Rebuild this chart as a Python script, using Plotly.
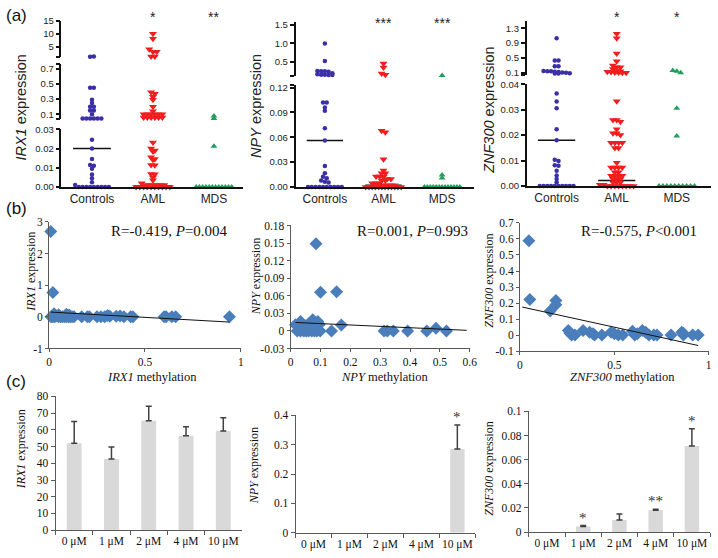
import plotly.graph_objects as go

W, H = 718, 558

# ---------------- data: panel (a) dot plots ----------------
GROUPS = ["Controls", "AML", "MDS"]

IRX1_CONTROLS = [1.2, 1.25, 0.45, 0.45, 0.29, 0.25, 0.2, 0.2, 0.15, 0.15, 0.1,
                 0.045, 0.045, 0.045, 0.045, 0.045, 0.045,
                 0.0245, 0.02, 0.0145, 0.0115, 0.011, 0.0095, 0.0065, 0.0045, 0.0025, 0.001,
                 0, 0, 0, 0, 0, 0, 0, 0, 0]
IRX1_AML = [10, 8.1, 4, 3.1, 3.1, 1.25, 1.25,
            0.39, 0.37, 0.33, 0.29, 0.2, 0.14, 0.1, 0.1, 0.1, 0.1, 0.1, 0.1,
            0.06, 0.06, 0.06, 0.06, 0.06, 0.06,
            0.0232, 0.02, 0.019, 0.0185, 0.0155, 0.0145, 0.0142, 0.0115, 0.0113,
            0.0068, 0.0066, 0.005, 0.0035, 0.002,
            0.001, 0.001, 0.001, 0.001, 0.001, 0.001,
            0, 0, 0, 0, 0, 0, 0, 0, 0, 0]
IRX1_MDS = [0.078, 0.045, 0.0212, 0, 0, 0, 0, 0, 0, 0, 0, 0, 0, 0, 0]
IRX1_MEDIAN = [0.02, 0.0006, 0]
IRX1_SIG = ["", "*", "**"]

NPY_CONTROLS = [1.0, 0.53, 0.26, 0.25, 0.25, 0.24, 0.2, 0.17, 0.16, 0.16, 0.15, 0.15,
                0.102, 0.102, 0.096, 0.092, 0.071, 0.056, 0.0255, 0.0165, 0.0125,
                0.0105, 0.008, 0.0065, 0.0055,
                0, 0, 0, 0, 0, 0, 0, 0, 0, 0]
NPY_AML = [0.46, 0.35, 0.19, 0.16,
           0.068, 0.066, 0.0336, 0.0198, 0.0166, 0.0166, 0.0127, 0.0127, 0.0125,
           0.0098, 0.0098, 0.008, 0.008, 0.0047, 0.0047, 0.0047,
           0.002, 0.002, 0.002, 0.002,
           0, 0, 0, 0, 0, 0, 0, 0, 0, 0, 0, 0]
NPY_MDS = [0.14, 0.0146, 0.011, 0, 0, 0, 0, 0, 0, 0, 0, 0, 0, 0, 0, 0]
NPY_MEDIAN = [0.056, 0.0022, 0]
NPY_SIG = ["", "***", "***"]

ZNF300_CONTROLS = [1.03, 0.43, 0.43, 0.28, 0.28, 0.15, 0.14, 0.14, 0.13, 0.12, 0.11,
                   0.1, 0.09, 0.08, 0.08,
                   0.0364, 0.0332, 0.0306, 0.0223, 0.018, 0.0103, 0.0098, 0.0082,
                   0.008, 0.006, 0.0041, 0.0028, 0.0015,
                   0, 0, 0, 0, 0, 0, 0, 0, 0, 0]
ZNF300_AML = [1.15, 1.03, 0.62, 0.41, 0.3, 0.25, 0.25, 0.2, 0.15, 0.14, 0.13, 0.12,
              0.11, 0.11, 0.1, 0.1,
              0.0333, 0.026, 0.026, 0.0253, 0.0223, 0.0208, 0.0208, 0.0201,
              0.017, 0.017, 0.017, 0.017, 0.015, 0.015, 0.0092,
              0.0073, 0.0073, 0.0073, 0.0073, 0.0054, 0.0054,
              0.004, 0.004, 0.004, 0.004, 0.0028, 0.0028, 0.0028,
              0.0015, 0.0015, 0.0015, 0.0005, 0.0005,
              0, 0, 0, 0, 0, 0, 0, 0]
ZNF300_MDS = [0.16, 0.145, 0.1, 0.0306, 0.0197, 0, 0, 0, 0, 0, 0, 0, 0, 0, 0]
ZNF300_MEDIAN = [0.018, 0.0022, 0]
ZNF300_SIG = ["", "*", "*"]

# ---------------- data: panel (b) correlations ----------------
IRX1_METH = [0.009, 0.02, 0.026, 0.01, 0.015, 0.02, 0.03, 0.04, 0.05, 0.06, 0.07,
             0.08, 0.09, 0.1, 0.11, 0.12, 0.13, 0.05, 0.09, 0.105,
             0.17, 0.2, 0.21, 0.25, 0.27, 0.29, 0.305, 0.317,
             0.35, 0.37, 0.39, 0.425, 0.437, 0.6, 0.61, 0.64, 0.66, 0.94]
IRX1_EXPR = [2.7, 0.77, 0.1, 0.0, 0.02, 0.0, 0.0, 0.03, 0.0, 0.0, 0.0,
             0.0, 0.0, 0.0, 0.0, 0.0, 0.0, 0.07, 0.08, 0.06,
             0.0, 0.0, 0.0, 0.0, 0.0, 0.0, 0.04, 0.02,
             0.02, 0.03, 0.0, 0.0, 0.0, 0.0, 0.0, 0.0, 0.0, 0.0]
IRX1_FIT_X = [0.01, 0.94]
IRX1_FIT_Y = [0.15, -0.165]

NPY_METH = [0.085, 0.1, 0.154, 0.016, 0.033, 0.049, 0.06, 0.074, 0.08, 0.091, 0.096,
            0.17, 0.022, 0.033, 0.044, 0.052, 0.06, 0.071, 0.08, 0.088, 0.099,
            0.137, 0.313, 0.324, 0.344, 0.392, 0.456, 0.487, 0.522, 0.049, 0.07]
NPY_EXPR = [0.149, 0.066, 0.067, 0.0106, 0.016, 0.009, 0.012, 0.019, 0.014, 0.016, 0.011,
            0.01, 0, 0, 0, 0, 0, 0, 0, 0, 0,
            0, 0, 0, 0, 0, 0, 0.0044, 0, 0.004, 0.005]
NPY_FIT_X = [0.016, 0.59]
NPY_FIT_Y = [0.0144, 0.001]

ZNF300_METH = [0.047, 0.052, 0.16, 0.19, 0.19, 0.256, 0.265, 0.274, 0.291, 0.334,
               0.369, 0.387, 0.395, 0.434, 0.483, 0.5, 0.521, 0.544, 0.596, 0.608,
               0.622, 0.648, 0.666, 0.683, 0.709, 0.726, 0.8, 0.857, 0.866, 0.866,
               0.915, 0.944]
ZNF300_EXPR = [0.589, 0.222, 0.151, 0.216, 0.19, 0.029, 0.012, 0.0, 0.0, 0.029,
               0.018, 0.008, 0.0, 0.0, 0.018, 0.008, 0.0, 0.0, 0.024, 0.0,
               0.008, 0.029, 0.018, 0.0, 0.0, 0.0, 0.0, 0.018, 0.012, 0.0,
               0.0, 0.0]
ZNF300_FIT_X = [0.012, 0.944]
ZNF300_FIT_Y = [0.175, -0.065]

# ---------------- data: panel (c) bars ----------------
DOSES = ["0 \u03bcM", "1 \u03bcM", "2 \u03bcM", "4 \u03bcM", "10 \u03bcM"]
IRX1_BAR = [52, 42.5, 65.5, 56.5, 59.3]
IRX1_SD = [13, 7.2, 8.6, 5.4, 8]
IRX1_BAR_SIG = ["", "", "", "", ""]
NPY_BAR = [0, 0, 0, 0, 0.285]
NPY_SD = [0, 0, 0, 0, 0.082]
NPY_BAR_SIG = ["", "", "", "", "*"]
ZNF300_BAR = [0, 0.0046, 0.0100, 0.0181, 0.0713]
ZNF300_SD = [0, 0.0009, 0.0051, 0.0008, 0.0144]
ZNF300_BAR_SIG = ["", "*", "", "**", "*"]

# ---------------- helpers ----------------
SANS = "Liberation Sans, Arial, sans-serif"
SERIF = "Liberation Serif, Times New Roman, serif"


def fx(p):
    return p / W


def fy(p):
    return 1 - p / H


fig = go.Figure()
axes = {}
count = [0]


def new_pair(xdom, ydom, xr, yr, xopts, yopts):
    count[0] += 1
    n = count[0]
    sfx = "" if n == 1 else str(n)
    axes["xaxis" + sfx] = dict(domain=[fx(xdom[0]), fx(xdom[1])], range=list(xr) if xr else None,
                               anchor="y" + sfx, showgrid=False, zeroline=False, **xopts)
    axes["yaxis" + sfx] = dict(domain=[fy(ydom[1]), fy(ydom[0])], range=list(yr),
                               anchor="x" + sfx, showgrid=False, zeroline=False, **yopts)
    return "x" + sfx, "y" + sfx


def seg_index(v, segs):
    for k, s in enumerate(segs):
        if v <= s["hi"] + 1e-12:
            return k
    return len(segs) - 1


def swarm(vals, seg, px_per_unit, spacing, tol=2.5, maxw=36.0):
    top, bot, lo, hi = seg["top"], seg["bot"], seg["lo"], seg["hi"]
    ys = [top + (hi - v) / (hi - lo) * (bot - top) for v in vals]
    order = sorted(range(len(vals)), key=lambda i: ys[i])
    rows, cur = [], []
    for i in order:
        if cur and ys[i] - ys[cur[0]] > tol:
            rows.append(cur)
            cur = []
        cur.append(i)
    if cur:
        rows.append(cur)
    offs = [0.0] * len(vals)
    for row in rows:
        n = len(row)
        sp = spacing if (n - 1) * spacing <= maxw else maxw / (n - 1)
        row_sorted = sorted(row)
        for k, i in enumerate(row_sorted):
            offs[i] = (k - (n - 1) / 2) * sp / px_per_unit
    return offs


# ---------------- panel (a) ----------------
A_PANELS = [
    dict(gene="IRX1", data=[IRX1_CONTROLS, IRX1_AML, IRX1_MDS], med=IRX1_MEDIAN, sig=IRX1_SIG,
         xdom=(59.3, 243), xr=(-0.5, 2.47),
         segs=[dict(top=126, bot=185, lo=0, hi=0.03, tv=[0, 0.01, 0.02, 0.03],
                    tt=["0.00", "0.01", "0.02", "0.03"]),
               dict(top=59.3, bot=115.4, lo=0.04, hi=0.76, tv=[0.04, 0.1, 0.3, 0.5, 0.7, 0.76],
                    tt=["", "0.1", "0.3", "0.5", "0.7", ""]),
               dict(top=15, bot=52.3, lo=1, hi=15, tv=[1, 5, 10, 15], tt=["", "5", "10", "15"])],
         tx=18, ty=104, sy=11),
    dict(gene="NPY", data=[NPY_CONTROLS, NPY_AML, NPY_MDS], med=NPY_MEDIAN, sig=NPY_SIG,
         xdom=(296.7, 478), xr=(-0.5, 2.55),
         segs=[dict(top=81, bot=185, lo=0, hi=0.1228, tv=[0, 0.03, 0.06, 0.09, 0.12, 0.1228],
                    tt=["0.00", "0.03", "0.06", "0.09", "0.12", ""]),
               dict(top=16.7, bot=71.7, lo=0.12, hi=1.567, tv=[0.12, 0.5, 1.0, 1.5],
                    tt=["", "0.5", "1.0", "1.5"])],
         tx=256.7, ty=102, sy=17),
    dict(gene="ZNF300", data=[ZNF300_CONTROLS, ZNF300_AML, ZNF300_MDS], med=ZNF300_MEDIAN, sig=ZNF300_SIG,
         xdom=(531, 718), xr=(-0.5, 2.57),
         segs=[dict(top=80, bot=184, lo=0, hi=0.04, tv=[0, 0.01, 0.02, 0.03, 0.04],
                    tt=["0.00", "0.01", "0.02", "0.03", "0.04"]),
               dict(top=15, bot=70.7, lo=0.036, hi=1.505, tv=[0.036, 0.1, 0.5, 0.9, 1.3],
                    tt=["", "0.1", "0.5", "0.9", "1.3"])],
         tx=493, ty=106, sy=11),
]

MARKERS = [dict(symbol="circle", size=4.5, color="#3b2fa6"),
           dict(symbol="triangle-down", size=7, color="#f21d1d"),
           dict(symbol="triangle-up", size=6, color="#1f9e5c")]
SPACING = [3.8, 3.8, 4.0]

annotations = []

for P in A_PANELS:
    pxu = (P["xdom"][1] - P["xdom"][0]) / (P["xr"][1] - P["xr"][0])
    refs = []
    for k, s in enumerate(P["segs"]):
        bottom = (k == 0)
        if bottom:
            xo = dict(showline=True, linecolor="#111", linewidth=1.5, ticks="",
                      tickvals=[0, 1, 2], ticktext=GROUPS,
                      tickfont=dict(family=SANS, size=12, color="#222"))
        else:
            xo = dict(visible=False)
        yo = dict(showline=True, linecolor="#111", linewidth=1.5, ticks="outside", ticklen=4,
                  tickwidth=1.5, tickcolor="#111", tickvals=s["tv"], ticktext=s["tt"],
                  tickfont=dict(family=SANS, size=9.5, color="#222"))
        refs.append(new_pair(P["xdom"], (s["top"], s["bot"]), P["xr"], (s["lo"], s["hi"]), xo, yo))
    for gi, m in enumerate(P["med"]):
        k = seg_index(m, P["segs"])
        xr_, yr_ = refs[k]
        fig.add_trace(go.Scatter(x=[gi - 0.31, gi + 0.31], y=[m, m], xaxis=xr_, yaxis=yr_,
                                 mode="lines", line=dict(color="#111", width=1.5),
                                 cliponaxis=False, hoverinfo="skip"))
    for gi, vals in enumerate(P["data"]):
        for k, s in enumerate(P["segs"]):
            sv = [v for v in vals if seg_index(v, P["segs"]) == k]
            if not sv:
                continue
            offs = swarm(sv, s, pxu, SPACING[gi])
            xr_, yr_ = refs[k]
            fig.add_trace(go.Scatter(x=[gi + o for o in offs], y=sv, xaxis=xr_, yaxis=yr_,
                                     mode="markers", marker=dict(line=dict(width=0), **MARKERS[gi]),
                                     cliponaxis=False, hoverinfo="skip"))
    top_x = refs[-1][0]
    for gi, t in enumerate(P["sig"]):
        if t:
            annotations.append(dict(x=gi, xref=top_x, y=fy(P["sy"]), yref="paper", text=t,
                                    showarrow=False, font=dict(family=SANS, size=14, color="#222"),
                                    xanchor="center", yanchor="middle"))
    annotations.append(dict(x=fx(P["tx"]), y=fy(P["ty"]), xref="paper", yref="paper",
                            text="<i>%s</i> expression" % P["gene"], textangle=-90,
                            showarrow=False, font=dict(family=SANS, size=14.5, color="#222"),
                            xanchor="center", yanchor="middle"))

# ---------------- panel (b) ----------------
B_PANELS = [
    dict(gene="IRX1", x=IRX1_METH, y=IRX1_EXPR, fx_=IRX1_FIT_X, fy_=IRX1_FIT_Y,
         xdom=(46.7, 241.3), ydom=(220.7, 350), xr=(0, 1), yr=(-1, 3),
         xtv=[0, 0.5, 1], xtt=["0", "0.5", "1"],
         ytv=[-1, 0, 1, 2, 3], ytt=["-1", "0", "1", "2", "3"],
         stat="R=-0.419, <i>P</i>=0.004", sx=168.5, tx=29, ty=272, mx=151),
    dict(gene="NPY", x=NPY_METH, y=NPY_EXPR, fx_=NPY_FIT_X, fy_=NPY_FIT_Y,
         xdom=(291.7, 473.3), ydom=(224.3, 350), xr=(0, 0.6), yr=(-0.03, 0.18),
         xtv=[0, 0.1, 0.2, 0.3, 0.4, 0.5, 0.6], xtt=["0", "0.1", "0.2", "0.3", "0.4", "0.5", "0.6"],
         ytv=[-0.03, 0, 0.03, 0.06, 0.09, 0.12, 0.15, 0.18],
         ytt=["-0.03", "0", "0.03", "0.06", "0.09", "0.12", "0.15", "0.18"],
         stat="R=0.001, <i>P</i>=0.993", sx=415, tx=256.7, ty=277, mx=387),
    dict(gene="ZNF300", x=ZNF300_METH, y=ZNF300_EXPR, fx_=ZNF300_FIT_X, fy_=ZNF300_FIT_Y,
         xdom=(524.3, 715.7), ydom=(221.7, 352.7), xr=(0, 1), yr=(-0.1, 0.7),
         xtv=[0, 0.5, 1], xtt=["0", "0.5", "1"],
         ytv=[-0.1, 0, 0.1, 0.2, 0.3, 0.4, 0.5, 0.6, 0.7],
         ytt=["-0.1", "0", "0.1", "0.2", "0.3", "0.4", "0.5", "0.6", "0.7"],
         stat="R=-0.575, <i>P</i>&lt;0.001", sx=645, tx=492.7, ty=281, mx=628),
]

for P in B_PANELS:
    common = dict(showline=True, linecolor="#595959", linewidth=1, ticks="outside", ticklen=3,
                  tickcolor="#595959", tickfont=dict(family=SERIF, size=11.5, color="#111"))
    xr_, yr_ = new_pair(P["xdom"], P["ydom"], P["xr"], P["yr"],
                        dict(tickvals=P["xtv"], ticktext=P["xtt"], tickangle=0, **common),
                        dict(tickvals=P["ytv"], ticktext=P["ytt"], **common))
    fig.add_trace(go.Scatter(x=P["x"], y=P["y"], xaxis=xr_, yaxis=yr_, mode="markers",
                             marker=dict(symbol="diamond", size=10, color="#4a7ebb",
                                         line=dict(width=0)),
                             cliponaxis=False, hoverinfo="skip"))
    fig.add_trace(go.Scatter(x=P["fx_"], y=P["fy_"], xaxis=xr_, yaxis=yr_, mode="lines",
                             line=dict(color="#111", width=1), hoverinfo="skip"))
    annotations.append(dict(x=fx(P["sx"]), y=fy(230), xref="paper", yref="paper", text=P["stat"],
                            showarrow=False, font=dict(family=SERIF, size=15, color="#111"),
                            xanchor="center", yanchor="middle"))
    annotations.append(dict(x=fx(P["tx"]), y=fy(P["ty"]), xref="paper", yref="paper",
                            text="<i>%s</i> expression" % P["gene"], textangle=-90,
                            showarrow=False, font=dict(family=SERIF, size=12, color="#111"),
                            xanchor="center", yanchor="middle"))
    annotations.append(dict(x=fx(P["mx"]), y=fy(379), xref="paper", yref="paper",
                            text="<i>%s</i> methylation" % P["gene"],
                            showarrow=False, font=dict(family=SERIF, size=12.5, color="#111"),
                            xanchor="center", yanchor="middle"))

# ---------------- panel (c) ----------------
C_PANELS = [
    dict(gene="IRX1", m=IRX1_BAR, sd=IRX1_SD, sig=IRX1_BAR_SIG,
         xdom=(53.3, 242.3), ydom=(399, 535.7), yr=(0, 80),
         ytv=[0, 10, 20, 30, 40, 50, 60, 70, 80],
         ytt=["0", "10", "20", "30", "40", "50", "60", "70", "80"], tx=18.3, ty=453),
    dict(gene="NPY", m=NPY_BAR, sd=NPY_SD, sig=NPY_BAR_SIG,
         xdom=(296.7, 479), ydom=(418.3, 538.3), yr=(0, 0.4),
         ytv=[0, 0.1, 0.2, 0.3, 0.4], ytt=["0", "0.1", "0.2", "0.3", "0.4"], tx=254, ty=470),
    dict(gene="ZNF300", m=ZNF300_BAR, sd=ZNF300_SD, sig=ZNF300_BAR_SIG,
         xdom=(533.3, 717), ydom=(414.3, 537.7), yr=(0, 0.1),
         ytv=[0, 0.02, 0.04, 0.06, 0.08, 0.1], ytt=["0", "0.02", "0.04", "0.06", "0.08", "0.1"],
         tx=492.7, ty=473),
]

for P in C_PANELS:
    common = dict(showline=True, linecolor="#595959", linewidth=1, ticks="outside", ticklen=4,
                  tickcolor="#595959", tickfont=dict(family=SERIF, size=11.5, color="#111"))
    xr_, yr_ = new_pair(P["xdom"], P["ydom"], (-0.5, 4.5), P["yr"],
                        dict(type="category", tickson="boundaries", tickangle=0,
                             categoryorder="array", categoryarray=DOSES, **common),
                        dict(tickvals=P["ytv"], ticktext=P["ytt"], **common))
    fig.add_trace(go.Bar(x=DOSES, y=P["m"], xaxis=xr_, yaxis=yr_, width=0.4,
                         marker=dict(color="#d9d9d9", line=dict(width=0)),
                         hoverinfo="skip"))
    # error bars only where there is a visible deviation
    ex = [d for d, s in zip(DOSES, P["sd"]) if s > 0]
    ey = [m for m, s in zip(P["m"], P["sd"]) if s > 0]
    es = [s for s in P["sd"] if s > 0]
    fig.add_trace(go.Scatter(x=ex, y=ey, xaxis=xr_, yaxis=yr_, mode="markers",
                             marker=dict(size=1, opacity=0),
                             error_y=dict(type="data", symmetric=False, array=es,
                                          arrayminus=[0] * len(es), color="#404040",
                                          thickness=1.5, width=3, visible=True),
                             hoverinfo="skip"))
    for d, m, s, t in zip(DOSES, P["m"], P["sd"], P["sig"]):
        if t:
            annotations.append(dict(x=d, xref=xr_, y=m + s, yref=yr_, text=t, showarrow=False,
                                    font=dict(family=SERIF, size=15, color="#333"),
                                    xanchor="center", yanchor="bottom", yshift=-2))
    annotations.append(dict(x=fx(P["tx"]), y=fy(P["ty"]), xref="paper", yref="paper",
                            text="<i>%s</i> expression" % P["gene"], textangle=-90,
                            showarrow=False, font=dict(family=SERIF, size=12, color="#111"),
                            xanchor="center", yanchor="middle"))

# panel letters
for lab, yy in [("(a)", 10), ("(b)", 207), ("(c)", 384)]:
    annotations.append(dict(x=fx(1), y=fy(yy), xref="paper", yref="paper", text=lab,
                            showarrow=False, font=dict(family=SANS, size=17, color="#111"),
                            xanchor="left", yanchor="middle"))

fig.update_layout(width=W, height=H, margin=dict(l=0, r=0, t=0, b=0),
                  paper_bgcolor="white", plot_bgcolor="rgba(0,0,0,0)",
                  showlegend=False, annotations=annotations, bargap=0.6, **axes)

fig.write_html("out.html", config={"displayModeBar": False},
               post_script="document.body.style.margin='0px';document.body.style.overflow='hidden';")
